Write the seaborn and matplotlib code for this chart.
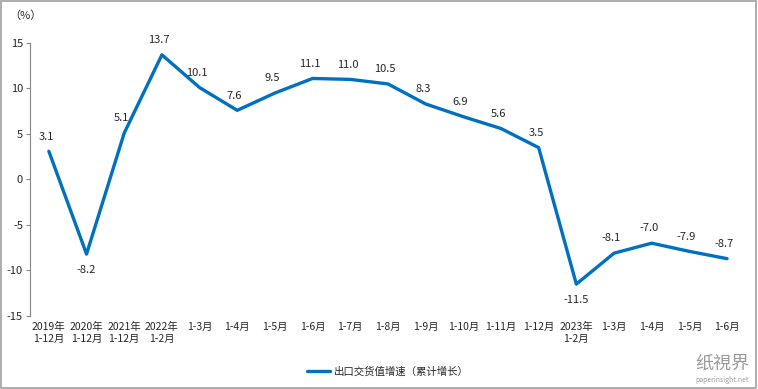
import matplotlib
matplotlib.use("Agg")
import matplotlib.pyplot as plt
import seaborn as sns
import pandas as pd
from matplotlib.patches import Rectangle

categories = ["2019年\n1-12月", "2020年\n1-12月", "2021年\n1-12月", "2022年\n1-2月", "1-3月", "1-4月",
              "1-5月", "1-6月", "1-7月", "1-8月", "1-9月", "1-10月", "1-11月", "1-12月",
              "2023年\n1-2月", "1-3月", "1-4月", "1-5月", "1-6月"]
values = [3.1, -8.2, 5.1, 13.7, 10.1, 7.6, 9.5, 11.1, 11.0, 10.5, 8.3, 6.9, 5.6, 3.5,
          -11.5, -8.1, -7.0, -7.9, -8.7]
series_name = "出口交货值增速（累计增长）"
yticks = [-15, -10, -5, 0, 5, 10, 15]

sns.set_theme(style="white")
plt.rcParams['font.family'] = ['Noto Sans CJK SC', 'DejaVu Sans']

df = pd.DataFrame({"x": range(len(categories)), "v": values})

fig = plt.figure(figsize=(7.58, 3.89), dpi=100)
ax = fig.add_axes([0.0396, 0.1877, 0.9444, 0.7018])
sns.lineplot(data=df, x="x", y="v", ax=ax, color="#0070C0", linewidth=2.4, label=series_name)

ax.set_xlim(-0.5, len(categories) - 0.5)
ax.set_ylim(-15, 15)
ax.set_yticks(yticks)
ax.set_yticklabels([str(t) for t in yticks], fontsize=8)
ax.set_xticks(range(len(categories)))
ax.set_xticklabels(categories, fontsize=7.5, linespacing=1.3)
ax.tick_params(axis="x", length=0, pad=4)
ax.tick_params(axis="y", length=3, width=0.8, color="#868686", left=True, pad=2)
ax.set_xlabel("")
ax.set_ylabel("")
for s in ["top", "right", "bottom"]:
    ax.spines[s].set_visible(False)
ax.spines["left"].set_color("#868686")
ax.spines["left"].set_linewidth(0.8)

below = {1, 14}
for i, v in enumerate(values):
    if i in below:
        ax.annotate(f"{v:.1f}", (i, v), xytext=(0, -8), textcoords="offset points",
                    ha="center", va="top", fontsize=8)
    else:
        ax.annotate(f"{v:.1f}", (i, v), xytext=(-2, 7), textcoords="offset points",
                    ha="center", va="bottom", fontsize=8)

fig.text(25 / 758, 1 - 16 / 389, "（%）", fontsize=8, ha="center", va="center")

leg = ax.legend(loc="center", bbox_to_anchor=(0.5, -0.205), frameon=False, fontsize=7.5,
                handlelength=2.2, handletextpad=0.4)

# watermark
fig.text(695 / 758, 1 - 364 / 389, "纸視界", fontsize=13, color="#9a9a9a", ha="left", va="center",
         style="italic")
fig.text(695 / 758, 1 - 380 / 389, "paperinsight.net", fontsize=5, color="#9a9a9a", ha="left",
         va="center")

fig.patches.append(Rectangle((0.001, 0.002), 0.997, 0.995, transform=fig.transFigure,
                             fill=False, edgecolor="#a0a0a0", linewidth=1.2))

fig.savefig("out.png", dpi=100)
